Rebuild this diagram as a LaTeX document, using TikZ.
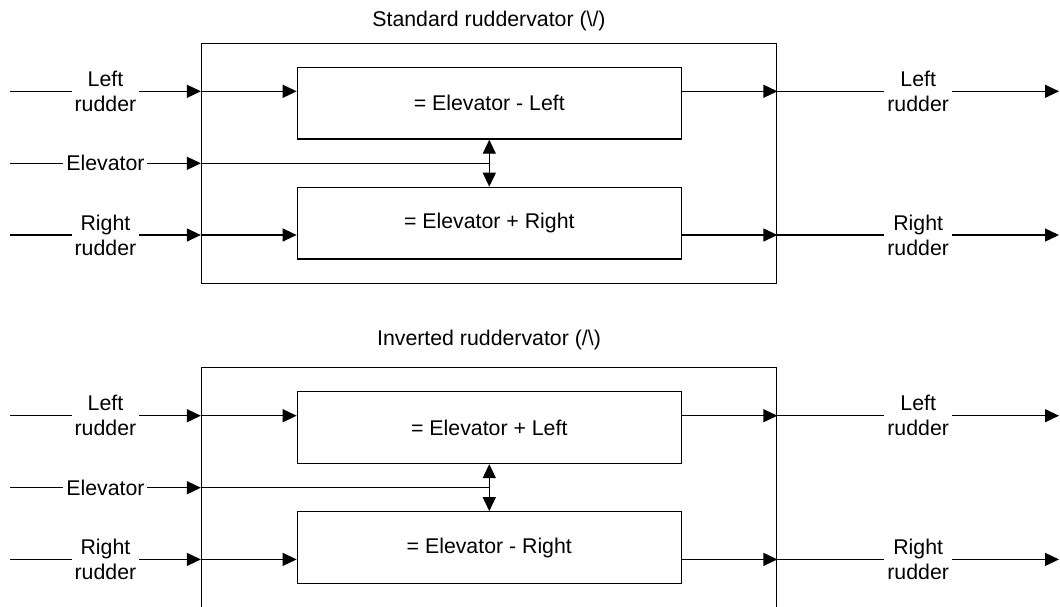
\documentclass[tikz,border=0pt]{standalone}
\usepackage{fontspec}
\setmainfont{Liberation Sans}
\usetikzlibrary{arrows.meta}

\tikzset{
  wire/.style={line width=0.65pt, draw=black},
  arr/.style={wire, -{Triangle[length=7pt,width=6.5pt]}},
  dblarr/.style={wire, {Triangle[length=7pt,width=6.5pt]}-{Triangle[length=7pt,width=6.5pt]}},
  outerbox/.style={draw, line width=0.65pt, minimum width=287.6pt, minimum height=120pt, inner sep=0pt},
  calcbox/.style={draw, line width=0.65pt, fill=white, minimum width=192pt, minimum height=35.85pt, inner sep=0pt},
  lbl/.style={fill=white, align=center, inner sep=1.5pt},
  ttl/.style={anchor=base, inner sep=0pt}
}

\begin{document}
\begin{tikzpicture}[x=0.5pt, y=-0.5pt,
  every node/.append style={font=\fontsize{10.65pt}{12.5pt}\selectfont}]
\clip (0,0) rectangle (1060,606);

% ---------- standard ruddervator ----------
\node[ttl] (t1) at (489,26.7) {Standard ruddervator (\textbackslash/)};
\node[outerbox] (o1) at (489.1,163.3) {};
\node[calcbox] (a1) at (489.3,103.2) {= Elevator - Left};
\node[calcbox] (b1) at (489.3,223.2) {= Elevator + Right};

\coordinate (lin1) at (10,91.3);
\coordinate (ein1) at (10,163.3);
\coordinate (rin1) at (10,235);
\coordinate (lout1) at (1059,91.3);
\coordinate (rout1) at (1059,235);

\draw[arr] (lin1) -- node[lbl] {Left\\rudder} (o1.west |- lin1);
\draw[arr] (o1.west |- lin1) -- (a1.west |- lin1);
\draw[arr] (ein1) -- node[lbl] {Elevator} (o1.west |- ein1);
\draw[wire] (o1.west |- ein1) -- (a1.south |- ein1);
\draw[arr] (rin1) -- node[lbl] {Right\\rudder} (o1.west |- rin1);
\draw[arr] (o1.west |- rin1) -- (b1.west |- rin1);
\draw[dblarr] (a1.south) -- (b1.north);
\draw[arr] (a1.east |- lin1) -- (o1.east |- lin1);
\draw[arr] (o1.east |- lin1) -- node[lbl] {Left\\rudder} (lout1);
\draw[arr] (b1.east |- rin1) -- (o1.east |- rin1);
\draw[arr] (o1.east |- rin1) -- node[lbl] {Right\\rudder} (rout1);

% ---------- inverted ruddervator ----------
\node[ttl] (t2) at (489,345) {Inverted ruddervator (/\textbackslash)};
\node[outerbox] (o2) at (489.1,487.7) {};
\node[calcbox] (a2) at (489.3,427.6) {= Elevator + Left};
\node[calcbox] (b2) at (489.3,547.6) {= Elevator - Right};

\coordinate (lin2) at (10,415.7);
\coordinate (ein2) at (10,487.7);
\coordinate (rin2) at (10,559.4);
\coordinate (lout2) at (1059,415.7);
\coordinate (rout2) at (1059,559.4);

\draw[arr] (lin2) -- node[lbl] {Left\\rudder} (o2.west |- lin2);
\draw[arr] (o2.west |- lin2) -- (a2.west |- lin2);
\draw[arr] (ein2) -- node[lbl] {Elevator} (o2.west |- ein2);
\draw[wire] (o2.west |- ein2) -- (a2.south |- ein2);
\draw[arr] (rin2) -- node[lbl] {Right\\rudder} (o2.west |- rin2);
\draw[arr] (o2.west |- rin2) -- (b2.west |- rin2);
\draw[dblarr] (a2.south) -- (b2.north);
\draw[arr] (a2.east |- lin2) -- (o2.east |- lin2);
\draw[arr] (o2.east |- lin2) -- node[lbl] {Left\\rudder} (lout2);
\draw[arr] (b2.east |- rin2) -- (o2.east |- rin2);
\draw[arr] (o2.east |- rin2) -- node[lbl] {Right\\rudder} (rout2);
\end{tikzpicture}
\end{document}
